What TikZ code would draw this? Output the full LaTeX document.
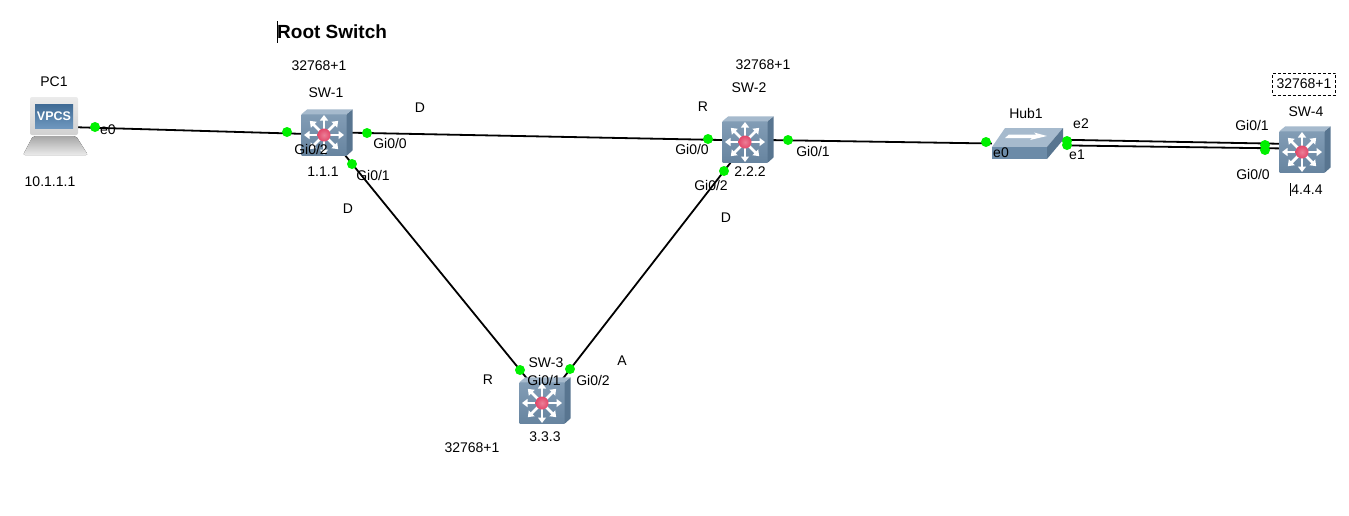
\documentclass[tikz,border=0pt]{standalone}
\usepackage{fontspec}
\setmainfont{Liberation Sans}
\usepackage{tikz}
\usetikzlibrary{arrows.meta, backgrounds}
\definecolor{swblue}{HTML}{6C8BA8}
\definecolor{swdark}{HTML}{587590}
\definecolor{swlight}{HTML}{A6BACD}
\definecolor{swred}{HTML}{E2486A}
\definecolor{pcblue}{HTML}{4A7DAE}
\definecolor{portgreen}{HTML}{00F000}

% switch icon: name, position
\newcommand{\mlswitch}[2]{
  \node[swface] (#1) at (#2) {};
  \fill[swlight] (#1.north west) -- ++(6,-5) -- ++(45,0) -- (#1.north east) -- cycle;
  \fill[swdark] (#1.north east) -- ++(6,-5) -- ++(0,41) -- (#1.south east) -- cycle;
  \foreach \ang in {0,45,...,315} {
    \draw[swarrow] (#1.center) -- ++(\ang:20);
  }
  \shade[inner color=swred!70!white, outer color=swred] (#1.center) circle (6.5);
}

\begin{document}
\begin{tikzpicture}[
  x=1pt, y=-1pt,
  swface/.style={rectangle, minimum width=45pt, minimum height=41pt, inner sep=0pt,
                 top color=swblue!85!white, bottom color=swblue!95!black},
  swarrow/.style={white, line width=2.8pt, -{Triangle[length=5.5pt, width=8pt]}},
  hubbox/.style={rectangle, minimum width=71pt, minimum height=31pt, inner sep=0pt},
  pcbox/.style={rectangle, rounded corners=2pt, minimum width=48pt, minimum height=38pt,
                inner sep=0pt, top color=black!8, bottom color=black!18},
  link/.style={line width=1.8pt, black},
  port/.style={circle, fill=portgreen, inner sep=0pt, minimum size=10pt},
  lbl/.style={inner sep=0pt, font=\fontsize{14}{16}\selectfont},
  dashlbl/.style={lbl, draw, dash pattern=on 3pt off 2pt, minimum width=63pt, minimum height=22pt}
]
  \useasboundingbox (0,0) rectangle (1349,515);

  % - Thiet bi -
  \fill[top color=black!35, bottom color=black!8, rounded corners=2pt]
    (33,136) -- (76,136) -- (88,155) -- (23,155) -- cycle;
  \node[pcbox] (pc1) at (54,116) {};
  \node[rectangle, top color=pcblue!85!black, bottom color=pcblue!80!white,
        minimum width=38pt, minimum height=24pt, inner sep=0pt,
        text=white, font=\bfseries\fontsize{12.5}{14}\selectfont] (pc1scr) at (pc1.center) {VPCS};

  \mlswitch{sw1}{324,135}
  \mlswitch{sw2}{745,142}
  \mlswitch{sw3}{542,403}
  \mlswitch{sw4}{1302,152}

  \node[hubbox] (hub1) at (1027.5,143.5) {};
  \fill[swlight] (992,147) -- (1005,128) -- (1063,128) -- (1047,147) -- cycle;
  \fill[swblue] (992,147) rectangle (1047,159);
  \fill[swdark] (1047,147) -- (1063,128) -- (1063,140) -- (1047,159) -- cycle;
  \fill[white] (1005,138) -- (1009,134.5) -- (1036,134.5) -- (1034,132.5) -- (1047,136)
    -- (1030,140) -- (1032,138) -- cycle;

  % - Duong noi -
  \begin{scope}[on background layer]
    \draw[link] (pc1.-25)  -- (sw1.177);
    \draw[link] (sw1.6)    -- (sw2.175);
    \draw[link] (sw2.5)    -- (hub1.west);
    \draw[link] (sw1.-44)  -- (sw3.120);
    \draw[link] (sw2.235)  -- (sw3.49);
    \draw[link] (hub1.6)   -- (sw4.160);
    \draw[link] (hub1.-3)  -- (sw4.171);
  \end{scope}

  % - Cong -
  \node[port] (pc1e0)  at (95,127) {};
  \node[port] (sw1g2)  at (287,132) {};
  \node[port] (sw1g0)  at (367,133) {};
  \node[port] (sw1g1)  at (352,164) {};
  \node[port] (sw2g0)  at (708,139) {};
  \node[port] (sw2g1)  at (788,140) {};
  \node[port] (sw2g2)  at (724,171) {};
  \node[port] (sw3g1)  at (520,370) {};
  \node[port] (sw3g2)  at (570,369) {};
  \node[port] (hube0)  at (986,142) {};
  \node[port] (hube2)  at (1067,141) {};
  \node[port] (hube1)  at (1067,145) {};
  \node[port] (sw4g1)  at (1265,145) {};
  \node[port] (sw4g0)  at (1265,150) {};

  % - Nhan -
  \node[lbl, font=\bfseries\fontsize{19}{21}\selectfont, anchor=west] (rootlbl) at (277,32) {Root Switch};
  \draw[line width=0.8pt] (277,21) -- (277,43);

  \node[lbl] (pc1name) at (54,82)  {PC1};
  \node[lbl] (pc1ip)   at (50,182) {10.1.1.1};
  \node[lbl] (pc1if0)  at (108,130) {e0};

  \node[lbl] (sw1pri)  at (319,66)  {32768+1};
  \node[lbl] (sw1name) at (326,93)  {SW-1};
  \node[lbl] (sw1id)   at (323,172) {1.1.1};
  \node[lbl] (sw1if2)  at (311,149) {Gi0/2};
  \node[lbl] (sw1if0)  at (390,143) {Gi0/0};
  \node[lbl] (sw1if1)  at (373,175) {Gi0/1};
  \node[lbl] (role12)  at (420,108) {D};
  \node[lbl] (role13)  at (348,209) {D};

  \node[lbl] (sw2pri)  at (763,65)  {32768+1};
  \node[lbl] (sw2name) at (749,88)  {SW-2};
  \node[lbl] (sw2id)   at (750,172) {2.2.2};
  \node[lbl] (sw2if0)  at (692,149) {Gi0/0};
  \node[lbl] (sw2if1)  at (813,151) {Gi0/1};
  \node[lbl] (sw2if2)  at (711,185) {Gi0/2};
  \node[lbl] (role21)  at (703,107) {R};
  \node[lbl] (role23)  at (726,218) {D};

  \node[lbl] (sw3pri)  at (472,448) {32768+1};
  \node[lbl] (sw3name) at (546,363) {SW-3};
  \node[lbl] (sw3id)   at (545,437) {3.3.3};
  \node[lbl] (sw3if1)  at (544,380) {Gi0/1};
  \node[lbl] (sw3if2)  at (593,380) {Gi0/2};
  \node[lbl] (role31)  at (488,380) {R};
  \node[lbl] (role32)  at (622,361) {A};

  \node[lbl] (hubname) at (1026,113) {Hub1};
  \node[lbl] (hubif0)  at (1001,153) {e0};
  \node[lbl] (hubif2)  at (1081,124) {e2};
  \node[lbl] (hubif1)  at (1077,155) {e1};

  \node[dashlbl] (sw4pri) at (1304,84) {32768+1};
  \node[lbl] (sw4name) at (1306,112) {SW-4};
  \node[lbl] (sw4id)   at (1307,190) {4.4.4};
  \draw[line width=0.7pt] (1290.5,183) -- (1290.5,196);
  \node[lbl] (sw4if1)  at (1252,125) {Gi0/1};
  \node[lbl] (sw4if0)  at (1253,174) {Gi0/0};
\end{tikzpicture}
\end{document}
